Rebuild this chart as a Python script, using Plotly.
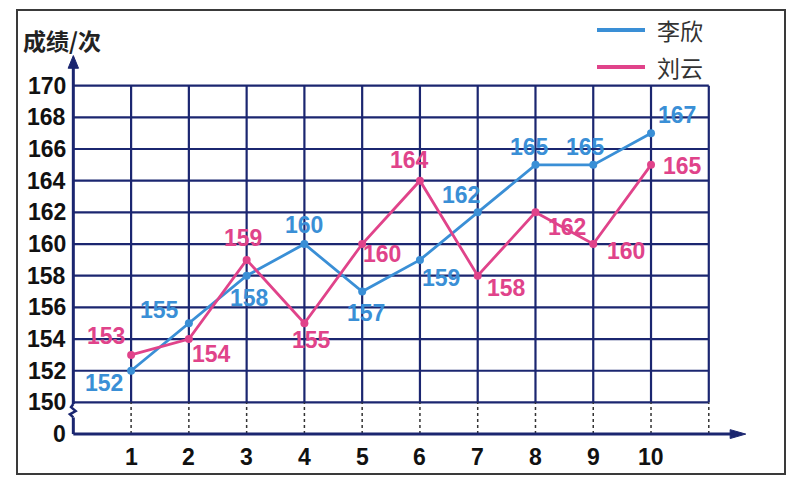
import plotly.graph_objects as go

# ---------------- data ----------------
tests = [1, 2, 3, 4, 5, 6, 7, 8, 9, 10]
x_tick_labels = ["1", "2", "3", "4", "5", "6", "7", "8", "9", "10"]
series_names = ["李欣", "刘云"]
li_xin = [152, 155, 158, 160, 157, 159, 162, 165, 165, 167]
liu_yun = [153, 154, 159, 155, 160, 164, 158, 162, 160, 165]
y_tick_vals = [170, 168, 166, 164, 162, 160, 158, 156, 154, 152, 150, 148]
y_tick_labels = ["170", "168", "166", "164", "162", "160", "158", "156", "154", "152", "150", "0"]
y_axis_title = "成绩/次"

# ---------------- style ----------------
OFF = 8  # page body margin
W, H = 800, 472
BLUE = "#3a8fd6"
PINK = "#e0438a"
NAVY = "#1b2670"
X_RANGE = [-0.3, 11.8]
Y_RANGE = [147.5, 172.0]
ML, MR, MT, MB = 56 - OFF, 53, 54 - OFF, 38
PW, PH = W - ML - MR, H - MT - MB

def px(xp):
    return (xp - OFF - ML) / PW

def py(yp):
    return 1 - (yp - OFF - MT) / PH

# label offsets (pixels) per point: (xshift, yshift)
blue_off = [(-27, -12), (-29, 13), (3, -22), (0, 19), (4, -21), (21, -18), (-17, 17), (-6, 18), (-8, 18), (26, 18)]
pink_off = [(-25, 19), (23, -15), (-4, 22), (7, -17), (20, -10), (-10, 21), (29, -12), (32, -15), (33, -7), (31, -1)]

fig = go.Figure()

for name, vals, col in [(series_names[0], li_xin, BLUE), (series_names[1], liu_yun, PINK)]:
    fig.add_trace(go.Scatter(
        x=tests, y=vals, name=name, mode="lines+markers",
        line=dict(color=col, width=2.8),
        marker=dict(color=col, size=8),
        showlegend=False, cliponaxis=False,
    ))

shapes = []
gmin, gmax = 150, 170
xmax = 11
# horizontal grid
for yv in range(gmin, gmax + 1, 2):
    shapes.append(dict(type="line", xref="x", yref="y", x0=0, x1=xmax, y0=yv, y1=yv,
                       line=dict(color=NAVY, width=2.2), layer="below"))
# vertical grid
for xv in range(1, xmax + 1):
    shapes.append(dict(type="line", xref="x", yref="y", x0=xv, x1=xv, y0=gmin, y1=gmax,
                       line=dict(color=NAVY, width=2.2), layer="below"))
    shapes.append(dict(type="line", xref="x", yref="y", x0=xv, x1=xv, y0=148, y1=gmin,
                       line=dict(color="#333", width=1.5, dash="dot"), layer="below"))
# axes
shapes.append(dict(type="line", xref="x", yref="y", x0=0, x1=11.45, y0=148, y1=148,
                   line=dict(color=NAVY, width=3), layer="below"))
shapes.append(dict(type="path", xref="x", yref="y",
                   path="M 11.37 147.72 L 11.64 148 L 11.37 148.28 Z",
                   fillcolor=NAVY, line=dict(color=NAVY, width=1)))
shapes.append(dict(type="line", xref="x", yref="y", x0=0, x1=0, y0=148, y1=149.05,
                   line=dict(color=NAVY, width=3), layer="below"))
shapes.append(dict(type="path", xref="x", yref="y",
                   path="M 0 149.05 L -0.06 149.25 L 0.04 149.45 L -0.04 149.7 L 0 149.9",
                   line=dict(color=NAVY, width=2.5)))
shapes.append(dict(type="line", xref="x", yref="y", x0=0, x1=0, y0=149.9, y1=171.3,
                   line=dict(color=NAVY, width=3), layer="below"))
shapes.append(dict(type="path", xref="x", yref="y",
                   path="M -0.09 171.1 L 0 171.9 L 0.09 171.1 Z",
                   fillcolor=NAVY, line=dict(color=NAVY, width=1)))
# outer frame
shapes.append(dict(type="rect", xref="paper", yref="paper",
                   x0=px(17), x1=px(785), y0=py(474), y1=py(10),
                   line=dict(color="#3a3a3a", width=2), layer="below"))

annotations = []
TICKFONT = dict(family="Liberation Sans", size=23, color="#111")
# y tick labels
for v, t in zip(y_tick_vals, y_tick_labels):
    annotations.append(dict(x=0, y=v, xref="x", yref="y", text="<b>%s</b>" % t, showarrow=False,
                            xanchor="right", yanchor="middle", xshift=-5,
                            font=TICKFONT))
# x tick labels
for v, t in zip(tests, x_tick_labels):
    annotations.append(dict(x=v, y=148, xref="x", yref="y", text="<b>%s</b>" % t, showarrow=False,
                            xanchor="center", yanchor="middle", yshift=-23,
                            font=TICKFONT))
# data labels
for vals, col, offs in [(li_xin, BLUE, blue_off), (liu_yun, PINK, pink_off)]:
    for xv, yv, (dx, dy) in zip(tests, vals, offs):
        annotations.append(dict(x=xv, y=yv, xref="x", yref="y", text="<b>%d</b>" % yv,
                                showarrow=False, xanchor="center", yanchor="middle",
                                xshift=dx, yshift=dy,
                                font=dict(family="Liberation Sans", size=23, color=col)))
# y-axis title
annotations.append(dict(x=px(21), y=py(40), xref="paper", yref="paper",
                        text="<b>" + y_axis_title + "</b>",
                        showarrow=False, xanchor="left", yanchor="middle",
                        font=dict(family="Noto Sans CJK SC", size=23, color="#222")))
# legend (manual)
for i, (name, col) in enumerate([(series_names[0], BLUE), (series_names[1], PINK)]):
    yl = 30 + i * 37
    shapes.append(dict(type="line", xref="paper", yref="paper", x0=px(597), x1=px(645),
                       y0=py(yl), y1=py(yl), line=dict(color=col, width=4)))
    annotations.append(dict(x=px(655), y=py(yl), xref="paper", yref="paper", text=name,
                            showarrow=False, xanchor="left", yanchor="middle",
                            font=dict(family="Noto Sans CJK SC", size=23, color="#333")))

fig.update_layout(
    width=W, height=H,
    margin=dict(l=ML, r=MR, t=MT, b=MB),
    paper_bgcolor="white", plot_bgcolor="white",
    xaxis=dict(range=X_RANGE, showgrid=False, zeroline=False, showticklabels=False,
               showline=False, ticks=""),
    yaxis=dict(range=Y_RANGE, showgrid=False, zeroline=False, showticklabels=False,
               showline=False, ticks=""),
    shapes=shapes, annotations=annotations, showlegend=False,
)

fig.write_html("out.html")
